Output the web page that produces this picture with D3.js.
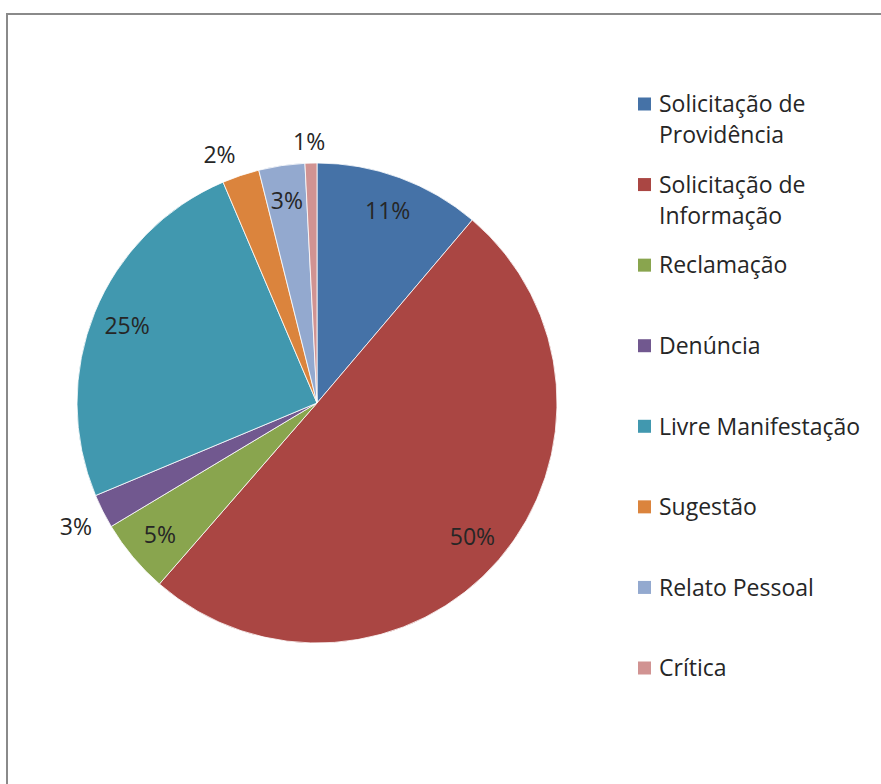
<!DOCTYPE html>
<html><head><meta charset="utf-8">
<script src="https://cdn.jsdelivr.net/npm/d3@7"></script>
<style>body{margin:0;background:#fff}svg{display:block}</style>
</head><body>
<script>
const categories = ["Solicitação de Providência","Solicitação de Informação","Reclamação","Denúncia","Livre Manifestação","Sugestão","Relato Pessoal","Crítica"];
const legendLines = [["Solicitação de","Providência"],["Solicitação de","Informação"],["Reclamação"],["Denúncia"],["Livre Manifestação"],["Sugestão"],["Relato Pessoal"],["Crítica"]];
const values = [11.2, 50.2, 5.0, 2.3, 24.9, 2.5, 3.1, 0.8];
const labels = ["11%","50%","5%","3%","25%","2%","3%","1%"];
const colors = ["#4572A7","#AA4643","#89A54E","#71588F","#4198AF","#DB843D","#93A9CF","#D19392"];

const W = 881, H = 784;
const svg = d3.select("body").append("svg").attr("width", W).attr("height", H);
svg.append("rect").attr("x",7).attr("y",14).attr("width",W).attr("height",H).attr("fill","#fff").attr("stroke","#8a8a8a").attr("stroke-width",2);

const cx = 317, cy = 403, R = 240;
const pie = d3.pie().sort(null).value(d => d)(values);
const arc = d3.arc().innerRadius(0).outerRadius(R);
const g = svg.append("g").attr("transform", `translate(${cx},${cy})`);
g.selectAll("path").data(pie).join("path").attr("d", arc).attr("fill", (d,i)=>colors[i]).attr("stroke","#fff").attr("stroke-width",0.8);

const font = "'Open Sans', sans-serif";
const fs = 23;
const inArc = d3.arc().innerRadius(205).outerRadius(205);
const clamp = v => Math.max(-1, Math.min(1, v));
function labelPos(d, i) {
  if (d.data >= 3) return inArc.centroid(d);
  const a = (d.startAngle + d.endAngle) / 2;
  const r = R + 10, hw = 18, hh = 11;
  const sx = Math.sin(a), cyv = -Math.cos(a);
  return [r * sx + hw * clamp(sx * 3.5), r * cyv + hh * clamp(cyv * 3.5)];
}
g.selectAll("text.lab").data(pie).join("text").attr("class","lab")
  .attr("transform", (d,i) => { const p = labelPos(d,i); return `translate(${p[0]},${p[1]})`; })
  .attr("text-anchor","middle").attr("dy","0.36em")
  .attr("font-family", font).attr("font-size", fs).attr("fill","#262626")
  .text((d,i)=>labels[i]);

const leg = svg.append("g");
const legY = d3.scaleLinear().domain([0, categories.length-1]).range([104, 668]);
categories.forEach((c,i) => {
  const y = legY(i);
  leg.append("rect").attr("x",638).attr("y",y-6.5).attr("width",13).attr("height",13).attr("fill",colors[i]);
  legendLines[i].forEach((ln,j) => {
    leg.append("text").attr("x",659).attr("y", y + j*31).attr("dy","0.36em")
      .attr("font-family", font).attr("font-size", fs).attr("fill","#262626").text(ln);
  });
});
</script>
</body></html>
